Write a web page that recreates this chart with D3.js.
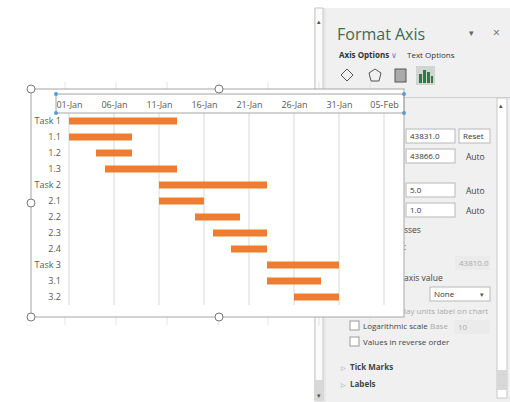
<!DOCTYPE html>
<html><head><meta charset="utf-8">
<script src="https://cdn.jsdelivr.net/npm/d3@7"></script>
<style>body{margin:0;background:#fff;font-family:"Segoe UI","Open Sans",sans-serif}</style>
</head><body>
<script>
// task data: start day / end day counted from 01-Jan
const tasks = ["Task 1","1.1","1.2","1.3","Task 2","2.1","2.2","2.3","2.4","Task 3","3.1","3.2"];
const startDay = [0,0,3,4,10,10,14,16,18,22,22,25];
const endDay = [12,7,7,12,22,15,19,22,22,30,28,30];
const tickLabels = ["01-Jan","06-Jan","11-Jan","16-Jan","21-Jan","26-Jan","31-Jan","05-Feb"];

const svg = d3.select("body").append("svg").attr("width",510).attr("height",402);
const font = "'Segoe UI','Open Sans',sans-serif";

// ---- format panel behind ----
svg.append("rect").attr("x",314).attr("y",8).attr("width",196).attr("height",394).attr("fill","#e8e8e8");
svg.append("rect").attr("x",315).attr("y",8).attr("width",8).attr("height",392).attr("fill","#fafafa").attr("stroke","#c8c8c8");
svg.append("rect").attr("x",315).attr("y",380).attr("width",8).attr("height",20).attr("fill","#d8d8d8");
svg.append("text").attr("x",317).attr("y",24).text("▴").attr("font-size",7).attr("fill","#555");
svg.append("text").attr("x",317).attr("y",398).text("▾").attr("font-size",7).attr("fill","#555");
svg.append("rect").attr("x",326).attr("y",8).attr("width",184).attr("height",394).attr("fill","#f0f0f0");
svg.append("text").attr("x",337).attr("y",40).text("Format Axis").attr("font-size",16).attr("fill","#3f6b52").attr("font-family",font);
svg.append("text").attr("x",469).attr("y",36).text("▾").attr("font-size",9).attr("fill","#666");
svg.append("text").attr("x",493).attr("y",37).text("×").attr("font-size",12).attr("fill","#666");
svg.append("text").attr("x",339).attr("y",58).text("Axis Options").attr("font-size",8).attr("font-weight","bold").attr("fill","#333").attr("font-family",font);
svg.append("text").attr("x",391).attr("y",58).text("∨").attr("font-size",8).attr("fill","#4a8ac9");
svg.append("text").attr("x",407).attr("y",58).text("Text Options").attr("font-size",8).attr("fill","#333").attr("font-family",font);
// icons
svg.append("path").attr("d","M341,75 l6,-6 l6,6 l-6,6 z").attr("fill","none").attr("stroke","#555");
svg.append("path").attr("d","M375,69 l6,4 l-2,8 h-8 l-2,-8 z").attr("fill","none").attr("stroke","#555");
svg.append("rect").attr("x",395).attr("y",69).attr("width",11).attr("height",13).attr("fill","#aaa").attr("stroke","#555");
svg.append("rect").attr("x",416).attr("y",66).attr("width",19).attr("height",19).attr("fill","#cfd6d2");
[[419,74,3,9],[423,70,3,13],[427,72,3,11],[431,76,2,7]].forEach(b=>svg.append("rect").attr("x",b[0]).attr("y",b[1]).attr("width",b[2]).attr("height",b[3]).attr("fill","#2f7a4a"));
// inner scroll area
svg.append("rect").attr("x",327).attr("y",97).attr("width",183).attr("height",1).attr("fill","#d0d0d0");
svg.append("rect").attr("x",497).attr("y",98).attr("width",10).attr("height",300).attr("fill","#fff").attr("stroke","#c8c8c8");
svg.append("rect").attr("x",497).attr("y",370).attr("width",10).attr("height",20).attr("fill","#d8d8d8");
svg.append("text").attr("x",499).attr("y",108).text("▴").attr("font-size",7).attr("fill","#555");
const box = (x,y,w,t,c) => {
  svg.append("rect").attr("x",x).attr("y",y).attr("width",w).attr("height",14).attr("fill",c||"#fff").attr("stroke",c?"none":"#b8b8b8");
  svg.append("text").attr("x",x+4).attr("y",y+10).text(t).attr("font-size",8).attr("fill",c?"#aaa":"#333").attr("font-family",font);
};
const lbl = (x,y,t,o) => svg.append("text").attr("x",x).attr("y",y).text(t).attr("font-size",(o&&o.s)||8.5).attr("fill",(o&&o.c)||"#444").attr("font-weight",(o&&o.b)?"bold":null).attr("font-family",font);
box(406,129,49,"43831.0");
box(459,129,31,"Reset"); box(406,149,49,"43866.0"); lbl(466,160,"Auto");
box(406,183,49,"5.0"); lbl(466,194,"Auto");
box(406,203,49,"1.0"); lbl(466,214,"Auto");
lbl(404,233,"sses"); lbl(404,250,":");
box(455,256,35,"43810.0","#ebebeb");
lbl(404,281,"axis value");
box(430,287,60,"None"); lbl(480,297,"▾",{s:7,c:"#555"});
lbl(404,314,"lay units label on chart",{c:"#aaa",s:8});
svg.append("rect").attr("x",350).attr("y",321).attr("width",9).attr("height",9).attr("fill","#fff").attr("stroke","#999");
lbl(363,329,"Logarithmic scale",{s:8}); lbl(430,329,"Base",{c:"#aaa",s:8});
box(454,320,36,"10","#ebebeb");
svg.append("rect").attr("x",350).attr("y",337).attr("width",9).attr("height",9).attr("fill","#fff").attr("stroke","#999");
lbl(363,345,"Values in reverse order",{s:8});
lbl(341,370,"▷",{s:6,c:"#999"}); lbl(350,370,"Tick Marks",{b:true,s:8});
lbl(341,387,"▷",{s:6,c:"#999"}); lbl(350,387,"Labels",{b:true,s:8});

// ---- chart ----
const x = d3.scaleLinear().domain([0,35]).range([69,384]);
const y = d3.scaleBand().domain(tasks).range([113,305]).paddingInner(0);
// sheet gridline stubs
[65,116,167,218,268,319,370].forEach(v=>{
  svg.append("line").attr("x1",v).attr("x2",v).attr("y1",82).attr("y2",89).attr("stroke","#e4e4e4");
  svg.append("line").attr("x1",v).attr("x2",v).attr("y1",317).attr("y2",325).attr("stroke","#e4e4e4");
});
svg.append("rect").attr("x",31).attr("y",89).attr("width",373).attr("height",228).attr("fill","#fff").attr("stroke","#a6a6a6");
const g = svg.append("g");
g.selectAll(".grid").data(d3.range(0,36,5)).join("line")
  .attr("x1",d=>x(d)).attr("x2",d=>x(d)).attr("y1",113).attr("y2",305).attr("stroke","#d9d9d9");
const ax = g.append("g").attr("transform","translate(0,103)")
  .call(d3.axisTop(x).tickValues(d3.range(0,36,5)).tickFormat((d,i)=>tickLabels[i]).tickSize(0));
ax.select(".domain").remove();
ax.selectAll("text").attr("font-size",9).attr("fill","#595959").attr("font-family",font).attr("dy","0.9em");
g.selectAll(".bar").data(tasks).join("rect")
  .attr("x",(d,i)=>x(startDay[i])).attr("width",(d,i)=>x(endDay[i])-x(startDay[i]))
  .attr("y",d=>y(d)+y.bandwidth()/2-3.5).attr("height",7).attr("fill","#ed7d31");
const ay = g.append("g").attr("transform","translate(64,0)").call(d3.axisLeft(y).tickSize(0).tickPadding(3));
ay.select(".domain").remove();
ay.selectAll("text").attr("font-size",9).attr("fill","#595959").attr("font-family",font);
// selection frame of axis
svg.append("rect").attr("x",56).attr("y",94).attr("width",348).attr("height",19).attr("fill","none").attr("stroke","#a6a6a6");
[[56,94],[56,113],[404,94],[404,113]].forEach(p=>svg.append("circle").attr("cx",p[0]).attr("cy",p[1]).attr("r",2).attr("fill","#5b9bd5"));
[[31,89],[219,89],[31,317],[219,317],[31,203]].forEach(p=>svg.append("circle").attr("cx",p[0]).attr("cy",p[1]).attr("r",4).attr("fill","#fff").attr("stroke","#777"));
</script>
</body></html>
